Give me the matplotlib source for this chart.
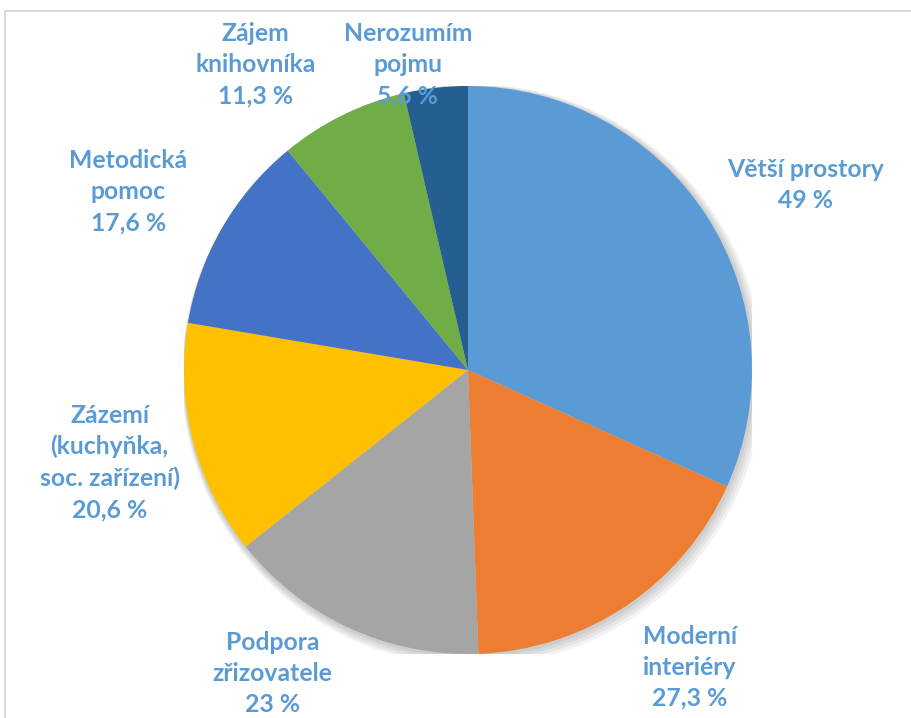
import numpy as np
import matplotlib
matplotlib.use("Agg")
import matplotlib.pyplot as plt
from matplotlib.lines import Line2D
from matplotlib.patches import Circle

categories = ["Větší prostory", "Moderní\ninteriéry", "Podpora\nzřizovatele",
              "Zázemí\n(kuchyňka,\nsoc. zařízení)", "Metodická\npomoc",
              "Zájem\nknihovníka", "Nerozumím\npojmu"]
values = [49, 27.3, 23, 20.6, 17.6, 11.3, 5.6]
value_labels = ["49 %", "27,3 %", "23 %", "20,6 %", "17,6 %", "11,3 %", "5,6 %"]
colors = ["#5B9BD5", "#ED7D31", "#A5A5A5", "#FFC000", "#4472C4", "#70AD47", "#255E91"]

# label placement (radial factor, angular shift from wedge middle in degrees)
label_r = [1.354, 1.306, 1.272, 1.303, 1.351, 1.310, 1.095]
label_shift = [-4.2, 2.8, -8.0, 0.0, 2.4, 8.6, 4.6]

W, H = 912, 718
fig = plt.figure(figsize=(W / 100, H / 100), dpi=100)
fig.patch.set_facecolor("white")

cx, cy, R = 468, 370, 284
ax = fig.add_axes([(cx - R) / W, (H - cy - R) / H, 2 * R / W, 2 * R / H])
ax.set_xlim(-1, 1)
ax.set_ylim(-1, 1)
ax.axis("off")

# soft shadow
for i, a in enumerate([0.05, 0.05, 0.05, 0.05]):
    ax.add_patch(Circle((0.004 + 0.004 * i, -0.006 - 0.004 * i), 1.0 + 0.006 * (i + 1),
                        facecolor="black", alpha=a, edgecolor="none", zorder=0))

wedges, _ = ax.pie(values, colors=colors, startangle=90, counterclock=False,
                   radius=1.0, wedgeprops=dict(linewidth=0, edgecolor="none"))
for w in wedges:
    w.set_zorder(2)
ax.set_xlim(-1, 1)
ax.set_ylim(-1, 1)
ax.set_aspect("auto")

for w, cat, vl, r, sh in zip(wedges, categories, value_labels, label_r, label_shift):
    mid = np.deg2rad((w.theta1 + w.theta2) / 2 + sh)
    x, y = r * np.cos(mid), r * np.sin(mid)
    ax.text(x, y, cat + "\n" + vl, ha="center", va="center", color="#5B9BD5",
            fontsize=17.8, fontweight="bold", family=["Lato", "DejaVu Sans"],
            linespacing=1.42, clip_on=False, zorder=5)

# chart frame (light gray border, top and left visible)
fig.add_artist(Line2D([5 / W, 1.0], [1 - 11 / H, 1 - 11 / H], transform=fig.transFigure,
                      color="#D9D9D9", linewidth=1.5))
fig.add_artist(Line2D([5 / W, 5 / W], [0, 1 - 11 / H], transform=fig.transFigure,
                      color="#D9D9D9", linewidth=1.5))

fig.savefig("out.png", dpi=100, facecolor="white")
